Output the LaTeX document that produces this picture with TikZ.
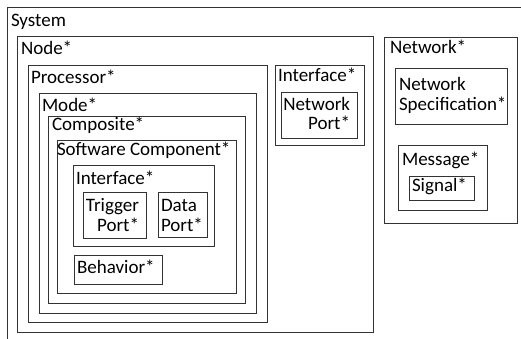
\documentclass[tikz,border=0pt]{standalone}
\usepackage{fontspec}
\setmainfont{Carlito}
\usetikzlibrary{fit}
\begin{document}
\begin{tikzpicture}[x=1pt,y=-1pt,
  box/.style={draw=black!80, line width=0.9pt, inner sep=0pt, outer sep=0pt},
  lbl/.style={anchor=base west, inner sep=0pt, outer sep=0pt, font=\fontsize{19}{20}\selectfont},
  lblr/.style={lbl, anchor=base east},
]
\useasboundingbox (0,0) rectangle (521,339);
\clip (0,0) rectangle (521,339);
\fill[white] (0,0) rectangle (521,339);

% containment boxes
\node[box, fit={(7,7) (530,350)}] (sys) {};
\node[box, fit={(17,36) (373,332)}] (nodebox) {};
\node[box, fit={(28,65) (267,322)}] (proc) {};
\node[box, fit={(39,93) (256,313)}] (mode) {};
\node[box, fit={(48,116) (245,303)}] (comp) {};
\node[box, fit={(57,140) (236,293)}] (swc) {};
\node[box, fit={(73,165) (214,246)}] (iface) {};
\node[box, fit={(83,192) (146,238)}] (trig) {};
\node[box, fit={(158,192) (207,237)}] (data) {};
\node[box, fit={(74,255) (162,284)}] (beh) {};
\node[box, fit={(275,65) (364,145)}] (niface) {};
\node[box, fit={(281,92) (357,138)}] (nport) {};
\node[box, fit={(384,37) (517,223)}] (net) {};
\node[box, fit={(395,68) (507,124)}] (nspec) {};
\node[box, fit={(398,145) (487,210)}] (msg) {};
\node[box, fit={(409,176) (474,200)}] (sig) {};

% labels
\node[lbl] (tsys) at (11,26.7) {System};
\node[lbl] (tnode) at (21,54.3) {Node*};
\node[lbl] (tproc) at (31,83.3) {Processor*};
\node[lbl] (tmode) at (42,112) {Mode*};
\node[lbl] (tcomp) at (52,131) {Composite*};
\node[lbl] (tswc) at (57,155) {Software Component*};
\node[lbl] (tiface) at (76,184) {Interface*};
\node[lblr] (ttrig1) at (139,211.7) {Trigger};
\node[lblr] (ttrig2) at (139,231.7) {Port*};
\node[lbl] (tdata1) at (161,211.7) {Data};
\node[lbl] (tdata2) at (161,231.7) {Port*};
\node[lbl] (tbeh) at (77,273) {Behavior*};
\node[lbl] (tniface) at (278,81.7) {Interface*};
\node[lblr] (tnport1) at (350,110.7) {Network};
\node[lblr] (tnport2) at (350,130) {Port*};
\node[lbl] (tnet) at (390,54) {Network*};
\node[lbl] (tnspec1) at (399,90.7) {Network};
\node[lbl] (tnspec2) at (399,111) {Specification*};
\node[lbl] (tmsg) at (402,165) {Message*};
\node[lbl] (tsig) at (412,191.7) {Signal*};
\end{tikzpicture}
\end{document}
